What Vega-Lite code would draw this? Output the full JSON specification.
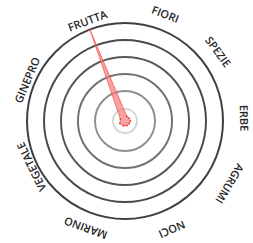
{
  "$schema": "https://vega.github.io/schema/vega-lite/v6.json",
  "width": 250,
  "height": 242,
  "autosize": "none",
  "padding": {"left": 0, "top": 0, "right": 3, "bottom": 1},
  "background": "white",
  "config": {"view": {"stroke": null}},
  "datasets": {
    "rings": [
      {"r": 12, "shade": "c6"},
      {"r": 30, "shade": "c5"},
      {"r": 47, "shade": "c4"},
      {"r": 64, "shade": "c3"},
      {"r": 81, "shade": "c2"},
      {"r": 98, "shade": "c1"}
    ],
    "labels": [
      {"cat": "FRUTTA", "deg": 339.5, "r": 106},
      {"cat": "FIORI", "deg": 20.7, "r": 113},
      {"cat": "SPEZIE", "deg": 53.4, "r": 115},
      {"cat": "ERBE", "deg": 88.6, "r": 118},
      {"cat": "AGRUMI", "deg": 120.9, "r": 121},
      {"cat": "NOCI", "deg": 156.6, "r": 117},
      {"cat": "MARINO", "deg": 200.2, "r": 113},
      {"cat": "VEGETALE", "deg": 243.9, "r": 103},
      {"cat": "GINEPRO", "deg": 292.7, "r": 105}
    ],
    "shape": [
      {"i": 0, "cat": "FRUTTA", "x": -35.1, "y": 91.5},
      {"i": 1, "cat": "FIORI", "x": 1.8, "y": 4.7},
      {"i": 2, "cat": "SPEZIE", "x": 4.0, "y": 3.0},
      {"i": 3, "cat": "ERBE", "x": 5.5, "y": 0},
      {"i": 4, "cat": "AGRUMI", "x": 4.3, "y": -2.6},
      {"i": 5, "cat": "NOCI", "x": 2.0, "y": -4.6},
      {"i": 6, "cat": "MARINO", "x": -1.7, "y": -4.7},
      {"i": 7, "cat": "VEGETALE", "x": -5.2, "y": -2.5},
      {"i": 8, "cat": "GINEPRO", "x": -4.6, "y": 1.9}
    ]
  },
  "layer": [
    {
      "data": {"name": "rings"},
      "mark": {"type": "arc", "theta": 0, "theta2": 6.2832, "fillOpacity": 0, "fill": "white"},
      "encoding": {
        "radius": {"field": "r", "type": "quantitative", "stack": null, "scale": {"type": "linear", "domain": [0, 100], "range": [0, 100], "zero": true}},
        "stroke": {"field": "shade", "type": "nominal", "legend": null,
          "scale": {"domain": ["c1", "c2", "c3", "c4", "c5", "c6"], "range": ["#404040", "#4a4a4a", "#575757", "#707070", "#8e8e8e", "#d6d6d6"]}},
        "strokeWidth": {"field": "shade", "type": "nominal", "legend": null,
          "scale": {"domain": ["c1", "c2", "c3", "c4", "c5", "c6"], "range": [2, 1.9, 1.7, 1.5, 1.3, 1.2]}}
      }
    },
    {
      "data": {"name": "shape"},
      "mark": {"type": "line", "interpolate": "linear-closed", "fill": "#f77b7b", "fillOpacity": 0.7, "stroke": "#f04a4a", "strokeWidth": 0.7},
      "encoding": {
        "x": {"field": "x", "type": "quantitative", "scale": {"domain": [-125, 125], "nice": false, "zero": false}, "axis": null},
        "y": {"field": "y", "type": "quantitative", "scale": {"domain": [-121, 121], "nice": false, "zero": false}, "axis": null},
        "order": {"field": "i", "type": "quantitative"}
      }
    },
    {
      "data": {"name": "shape"},
      "mark": {"type": "point", "filled": true, "color": "#ee3030", "size": 3, "opacity": 1},
      "encoding": {
        "x": {"field": "x", "type": "quantitative"},
        "y": {"field": "y", "type": "quantitative"}
      }
    },
    {
      "data": {"name": "labels"},
      "mark": {"type": "text", "font": "Open Sans", "fontSize": 11, "fontWeight": 600, "color": "#262626", "align": "center", "baseline": "middle"},
      "encoding": {
        "text": {"field": "cat", "type": "nominal"},
        "theta": {"field": "deg", "type": "quantitative", "scale": {"type": "linear", "domain": [0, 360], "range": [0, 6.2832]}},
        "radius": {"field": "r", "type": "quantitative", "stack": null, "scale": {"type": "linear", "domain": [0, 100], "range": [0, 100], "zero": true}},
        "angle": {"field": "deg", "type": "quantitative", "scale": {"domain": [0, 360], "range": [0, 360]}}
      }
    }
  ]
}
